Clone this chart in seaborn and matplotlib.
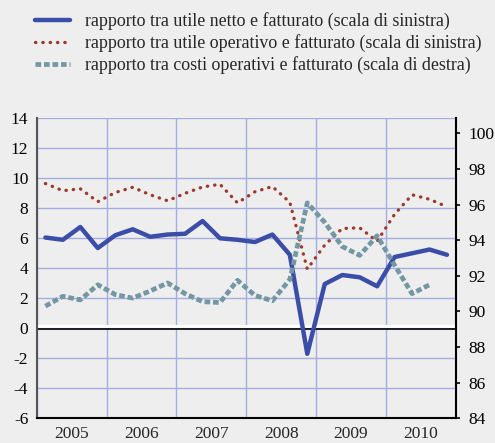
import numpy as np
import pandas as pd
import matplotlib
matplotlib.use("Agg")
import matplotlib.pyplot as plt
import seaborn as sns

years = [2005, 2006, 2007, 2008, 2009, 2010]
quarters = [1, 2, 3, 4]

utile_netto = [6.05, 5.9, 6.75, 5.35, 6.2, 6.6, 6.1, 6.25, 6.3, 7.15, 6.0, 5.9,
               5.75, 6.25, 4.9, -1.7, 2.95, 3.55, 3.4, 2.8, 4.75, 5.0, 5.25, 4.9]
utile_operativo = [9.65, 9.17, 9.3, 8.44, 9.05, 9.4, 8.9, 8.5, 9.0, 9.42, 9.6, 8.36,
                   9.1, 9.45, 8.4, 3.95, 5.55, 6.65, 6.7, 5.8, 7.6, 8.9, 8.6, 8.1]
costi_operativi = [90.3, 90.85, 90.65, 91.5, 90.95, 90.75, 91.15, 91.6, 91.0, 90.55, 90.5, 91.75,
                   90.9, 90.6, 91.8, 96.1, 95.0, 93.65, 93.15, 94.25, 92.6, 91.0, 91.5, np.nan]

labels = ["rapporto tra utile netto e fatturato (scala di sinistra)",
          "rapporto tra utile operativo e fatturato (scala di sinistra)",
          "rapporto tra costi operativi e fatturato (scala di destra)"]

left_ticks = list(range(-6, 15, 2))
right_ticks = list(range(84, 101, 2))

t = [y + (q - 0.5) / 4 for y in years for q in quarters]
df = pd.DataFrame({"t": t, "netto": utile_netto, "operativo": utile_operativo,
                   "costi": costi_operativi})

BG = "#eeeeee"
GRID = "#a6ace2"
BLUE = "#3a4ea8"
RED = "#9c3b2d"
TEAL = "#7397a3"

sns.set_style("white")
plt.rcParams["font.family"] = ["Liberation Serif", "DejaVu Serif"]

fig = plt.figure(figsize=(4.95, 4.43), dpi=100, facecolor=BG)
ax = fig.add_axes([0.0741, 0.0558, 0.8465, 0.6772])
ax.set_facecolor(BG)

ax.set_xlim(2005, 2011)
ax.set_ylim(-6, 14)
ax.set_yticks(left_ticks)
ax.set_yticklabels([str(v) for v in left_ticks])
ax.set_xticks(list(range(2005, 2012)))
ax.set_xticklabels([])
ax.set_xticks([y + 0.5 for y in years], minor=True)
ax.set_xticklabels([str(y) for y in years], minor=True)

ax.grid(True, which="major", color=GRID, lw=1.0, zorder=0)
ax.set_axisbelow(True)
ax.tick_params(axis="y", length=0, pad=6, labelsize=12.5, colors="black")
ax.tick_params(axis="x", which="major", direction="out", length=4, width=1.2, color="black")
ax.tick_params(axis="x", which="minor", length=0, pad=5.5, labelsize=12.5)

for s in ["top", "right"]:
    ax.spines[s].set_visible(False)
ax.spines["left"].set_color("#555555")
ax.spines["left"].set_linewidth(1.5)
ax.spines["bottom"].set_color("black")
ax.spines["bottom"].set_linewidth(1.5)

ax.axhline(0.12, color="white", lw=2.3, zorder=1.5)
ax.axhline(-0.05, color="black", lw=1.2, zorder=1.6)

sns.lineplot(data=df, x="t", y="netto", ax=ax, color=BLUE, linewidth=3.2,
             label=labels[0], legend=False, zorder=3)
sns.lineplot(data=df, x="t", y="operativo", ax=ax, color=RED, linewidth=2.4,
             linestyle=(0, (0.1, 2.1)), dash_capstyle="round",
             label=labels[1], legend=False, zorder=3)
ax.set_xlabel("")
ax.set_ylabel("")

ax2 = ax.twinx()
ax2.set_ylim(84, 100.85)
sns.lineplot(data=df.dropna(), x="t", y="costi", ax=ax2, color=TEAL, linewidth=3.4,
             linestyle=(0, (1.2, 0.6)), label=labels[2], legend=False)
ax2.set_yticks(right_ticks)
ax2.set_yticklabels([str(v) for v in right_ticks])
ax2.set_ylabel("")
ax2.set_xlabel("")
ax2.tick_params(axis="y", direction="out", length=3, width=1.2, pad=6,
                labelsize=12.5, colors="black")
for s in ["top", "left", "bottom"]:
    ax2.spines[s].set_visible(False)
ax2.spines["right"].set_color("black")
ax2.spines["right"].set_linewidth(1.5)
ax2.grid(False)

h1, l1 = ax.get_legend_handles_labels()
h2, l2 = ax2.get_legend_handles_labels()
fig.legend(h1 + h2, l1 + l2, loc="upper left", bbox_to_anchor=(0.0707, 0.972),
           frameon=False, fontsize=12.9, handlelength=1.95, handletextpad=0.85,
           labelspacing=0.22, borderaxespad=0.0, borderpad=0.0)

fig.savefig("out.png", dpi=100, facecolor=BG)
